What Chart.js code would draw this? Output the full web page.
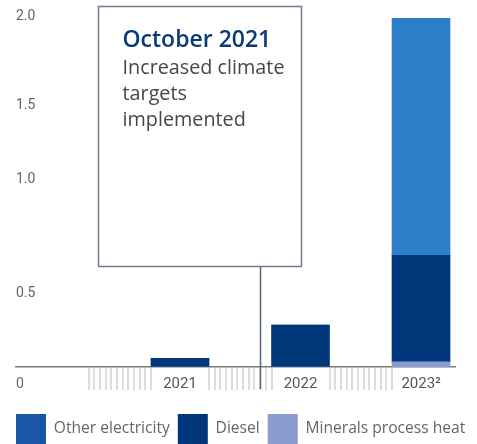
<!DOCTYPE html>
<html>
<head>
<meta charset="utf-8">
<script src="https://cdn.jsdelivr.net/npm/chart.js@4.4.1/dist/chart.umd.min.js"></script>
<style>
  html, body { margin: 0; padding: 0; background: #ffffff; }
  #wrap { width: 477px; height: 444px; }
</style>
</head>
<body>
<div id="wrap"><canvas id="c" width="477" height="444"></canvas></div>
<script>
// ---- data ----
const years = [2021, 2022, 2023];
const yearLabels = ['2021', '2022', '2023\u00B2'];
const mineralsHeat = [0, 0, 0.03];
const diesel = [0.05, 0.24, 0.61];
const otherElectricity = [0, 0, 1.36];
const seriesNames = ['Minerals process heat', 'Diesel', 'Other electricity'];
const yTickLabels = ['0', '0.5', '1.0', '1.5', '2.0'];
const yTickAt = [-0.1, 0.42, 1.075, 1.5, 2.01];
const annotationX = 2021.66;
const annotationTitle = 'October 2021';
const annotationLines = ['Increased climate', 'targets', 'implemented'];

// ---- style ----
const barColors = ['#8c9bcf', '#00377a', '#2a7fc8'];
const legendColors = ['#8c9bcf', '#00377a', '#1b56a6'];
const FONT = '"Open Sans", Roboto, sans-serif';
const TICKFONT = 'Roboto, "Open Sans", sans-serif';
const xMin = 2019.639, xMax = 2023.282;
const barPx = 58;

function toPts(arr) { return years.map((y, i) => ({ x: y, y: arr[i] })); }

const datasets = [mineralsHeat, diesel, otherElectricity].map((arr, i) => ({
  label: seriesNames[i],
  data: toPts(arr),
  backgroundColor: barColors[i],
  borderWidth: 0,
  barThickness: barPx,
  yAxisID: 'y'
}));

const annotationPlugin = {
  id: 'annotationBox',
  afterDraw(chart) {
    const ctx = chart.ctx;
    const xs = chart.scales.x;
    const lx = Math.round(xs.getPixelForValue(annotationX)) + 0.5;
    const left = lx - 162, top = 6.5, width = 203, height = 260;
    ctx.save();
    ctx.fillStyle = '#ffffff';
    ctx.fillRect(left, top, width, height);
    ctx.strokeStyle = '#6f7c90';
    ctx.lineWidth = 1.5;
    ctx.strokeRect(left, top, width, height);
    ctx.strokeStyle = '#56647a';
    ctx.beginPath();
    ctx.moveTo(lx, top + height);
    ctx.lineTo(lx, xs.top + 22);
    ctx.stroke();
    ctx.textAlign = 'left';
    ctx.textBaseline = 'alphabetic';
    ctx.fillStyle = '#0b3a78';
    ctx.font = '600 23px ' + FONT;
    ctx.fillText(annotationTitle, left + 24, 47);
    ctx.fillStyle = '#474747';
    ctx.font = '400 19.8px ' + FONT;
    annotationLines.forEach((t, i) => ctx.fillText(t, left + 24, 74 + i * 26));
    ctx.restore();
  }
};

new Chart(document.getElementById('c'), {
  type: 'bar',
  data: { datasets },
  plugins: [annotationPlugin],
  options: {
    responsive: false,
    animation: false,
    devicePixelRatio: 1,
    layout: { padding: { left: 8, right: 0, top: 18, bottom: -10 } },
    plugins: {
      tooltip: { enabled: false },
      legend: {
        position: 'bottom',
        align: 'start',
        reverse: true,
        labels: {
          boxWidth: 30,
          boxHeight: 30,
          padding: 8,
          color: '#666666',
          font: { family: FONT, size: 15.6 },
          generateLabels(chart) {
            return chart.data.datasets.map((ds, i) => ({
              text: ds.label,
              fillStyle: legendColors[i],
              strokeStyle: legendColors[i],
              lineWidth: 0,
              fontColor: '#666666',
              hidden: false,
              datasetIndex: i
            }));
          }
        }
      }
    },
    scales: {
      x: {
        type: 'linear',
        stacked: true,
        offset: false,
        min: xMin,
        max: xMax,
        bounds: 'data',
        afterBuildTicks(scale) {
          const half = (barPx / 2) / 120.5;
          const hatch = [];
          years.forEach(y => {
            const a = y - 1 + half, b = y - half;
            for (let k = 0; k <= 11; k++) hatch.push({ value: a + k * (b - a) / 11, hatch: true });
          });
          const yt = years.map(y => ({ value: y, hatch: false }));
          scale.ticks = hatch.concat(yt).sort((p, q) => p.value - q.value);
        },
        afterFit(scale) { scale.height = 39; },
        ticks: {
          autoSkip: false,
          maxRotation: 0,
          padding: -15,
          color: '#555555',
          font: { family: TICKFONT, size: 15 },
          callback(value) {
            const idx = years.findIndex(y => Math.abs(y - value) < 1e-6);
            return idx >= 0 ? yearLabels[idx] : '';
          }
        },
        grid: {
          display: true,
          drawOnChartArea: false,
          drawTicks: true,
          offset: false,
          tickLength: 23,
          lineWidth: 2,
          color(ctx) { return ctx.tick && ctx.tick.hatch ? '#dcdcdc' : 'rgba(0,0,0,0)'; }
        },
        border: { display: true, color: '#7a7a7a', width: 1.5 }
      },
      y: {
        type: 'linear',
        position: 'left',
        stacked: true,
        min: 0,
        max: 2.0,
        afterBuildTicks(scale) {
          scale.ticks = yTickAt.map(v => ({ value: v }));
        },
        afterFit(scale) { scale.width = 8; },
        ticks: {
          mirror: true,
          padding: 0,
          color: '#666666',
          font: { family: TICKFONT, size: 14 },
          callback(value, index) { return yTickLabels[index]; }
        },
        grid: { display: false, drawTicks: false },
        border: { display: false }
      },
      yRight: {
        type: 'linear',
        position: 'right',
        min: 0,
        max: 2.0,
        afterFit(scale) { scale.width = 22; },
        ticks: { display: false },
        grid: { display: false, drawTicks: false },
        border: { display: false }
      }
    }
  }
});
</script>
</body>
</html>
